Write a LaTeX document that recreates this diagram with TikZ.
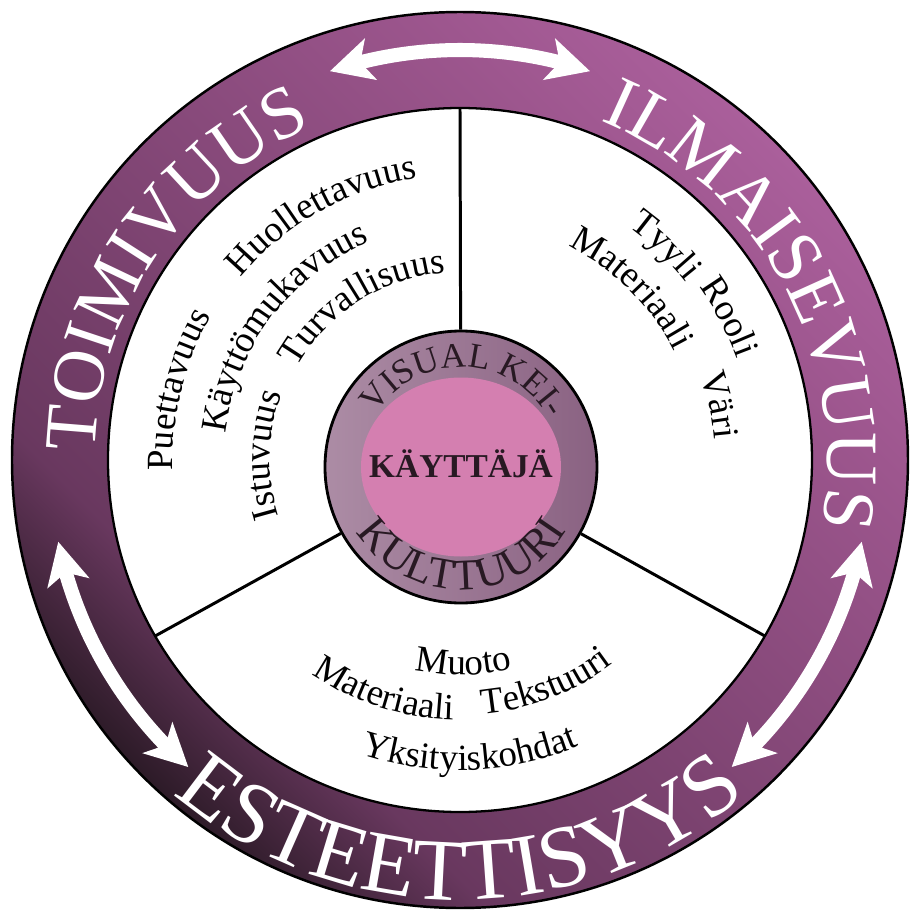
\documentclass[tikz,border=0pt]{standalone}
\usepackage{fontspec}
\setmainfont{Liberation Serif}
\usepackage{xcolor}
\usepackage{tikz}
\usetikzlibrary{arrows.meta,bending,decorations.text,positioning}

\definecolor{ringdark}{RGB}{45,27,40}
\definecolor{ringmid}{RGB}{105,56,95}
\definecolor{ringtop}{RGB}{157,86,142}
\definecolor{ringlight}{RGB}{170,95,155}
\definecolor{coreleft}{RGB}{172,140,165}
\definecolor{coreright}{RGB}{138,98,130}
\definecolor{corepink}{RGB}{212,127,176}
\definecolor{coretext}{RGB}{40,25,35}
\pgfdeclareverticalshading{ringshade}{100bp}{color(0bp)=(ringdark); color(25bp)=(ringdark); color(33.4bp)=(ringmid); color(66.6bp)=(ringtop); color(75bp)=(ringlight); color(100bp)=(ringlight)}

\newcommand{\bigfont}{\fontsize{42}{42}\selectfont}
\newcommand{\hugefont}{\fontsize{50}{50}\selectfont}
\newcommand{\itemfont}{\fontsize{21}{21}\selectfont}
% word centred on an arc round the origin: angle, radius, format, text
\newcommand{\cwtext}[4]{\path[decorate,decoration={text along path,text align=center,text={|#3|#4}}] ({#1+70}:#2) arc[start angle={#1+70},end angle={#1-70},radius=#2];}
\newcommand{\ccwtext}[4]{\path[decorate,decoration={text along path,text align=center,text={|#3|#4}}] ({#1-70}:#2) arc[start angle={#1-70},end angle={#1+70},radius=#2];}

\tikzset{
  ringarrow/.style={white,line width=8pt,{Stealth[length=24pt,width=24pt,inset=6pt]}-{Stealth[length=24pt,width=24pt,inset=6pt]}},
  divider/.style={black,line width=1.7pt}
}

\begin{document}
\begin{tikzpicture}
\path[use as bounding box,fill=white] (-9.2,-9.06) rectangle (9.0,9.2);
% outer ring
\shade[shading=ringshade,shading angle=-45,even odd rule] (0,0) circle (8.96) (0,0) circle (7.04);
\draw[line width=1.4pt] (0,0) circle (8.96);
\draw[line width=1.3pt] (0,0) circle (7.04);
\foreach \a in {90,210,330}{
  \draw[ringarrow] ({\a+18.5}:8.2) arc[start angle={\a+18.5},end angle={\a-18.5},radius=8.2];
}
% centre
\node[circle,draw,line width=1.6pt,minimum size=5.44cm,inner sep=0pt,left color=coreleft,right color=coreright] (core) at (0.02,-0.14) {};
\fill[corepink] (core.center) ellipse (2.0 and 1.79);
\foreach \a in {90,210,330}{
  \coordinate (rim\a) at (\a:7.04);
  \draw[divider] (core) -- (rim\a);
}
\node[anchor=base,font=\fontsize{19}{19}\selectfont\bfseries,text=coretext] (user) at (0.02,-0.34) {KÄYTTÄJÄ};
\begin{scope}[shift={(core.center)}]
\cwtext{88.5}{2.0}{\color{coretext}\fontsize{20}{20}\selectfont}{VISUAL KEI-}
\ccwtext{270.5}{2.46}{\color{coretext}\fontsize{25}{25}\selectfont}{KULTTUURI}
\end{scope}
% ring labels
\cwtext{146.4}{7.3}{\color{white}\bigfont}{TOIMIVUUS}
\cwtext{28.5}{7.35}{\color{white}\bigfont}{ILMAISEVUUS}
\ccwtext{270}{8.8}{\color{white}\hugefont}{ESTEETTISYYS}
% sector words
\cwtext{166}{5.74}{\itemfont}{Puettavuus}
\cwtext{119.4}{5.7}{\itemfont}{Huollettavuus}
\cwtext{143}{4.72}{\itemfont}{Käyttömukavuus}
\cwtext{178.5}{3.8}{\itemfont}{Istuvuus}
\cwtext{122.4}{3.76}{\itemfont}{Turvallisuus}
\cwtext{46.2}{5.75}{\itemfont}{Tyyli}
\cwtext{28}{5.9}{\itemfont}{Rooli}
\cwtext{45}{4.8}{\itemfont}{Materiaali}
\cwtext{12}{5.1}{\itemfont}{Väri}
\ccwtext{271}{4.3}{\itemfont}{Muoto}
\ccwtext{252}{5.2}{\itemfont}{Materiaali}
\ccwtext{291}{5.1}{\itemfont}{Tekstuuri}
\ccwtext{272}{6.2}{\itemfont}{Yksityiskohdat}
\end{tikzpicture}
\end{document}
